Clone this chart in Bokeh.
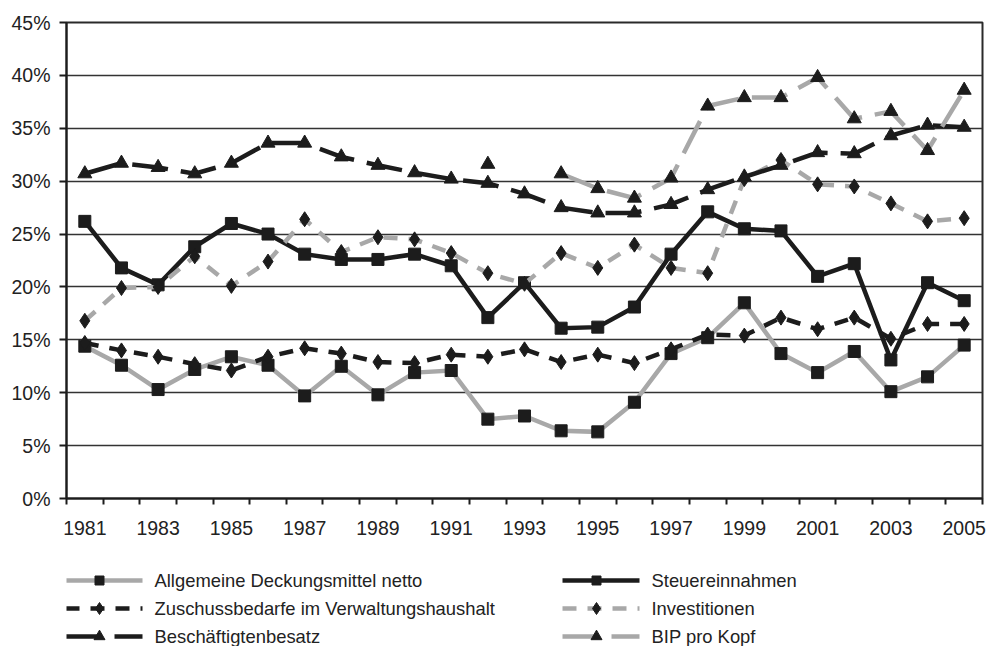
from bokeh.plotting import figure
from bokeh.layouts import column
from bokeh.models import FixedTicker, Range1d
from bokeh.core.properties import value
from bokeh.embed import file_html
from bokeh.resources import INLINE

nan = float("nan")

years = list(range(1981, 2006))
label_years = list(range(1981, 2006, 2))
y_ticks = [0, 5, 10, 15, 20, 25, 30, 35, 40, 45]

adm = [14.4, 12.6, 10.3, 12.2, 13.4, 12.6, 9.7, 12.5, 9.8, 11.9, 12.1, 7.5, 7.8,
       6.4, 6.3, 9.1, 13.7, 15.2, 18.5, 13.7, 11.9, 13.9, 10.1, 11.5, 14.5]
steuer = [26.2, 21.8, 20.2, 23.8, 26.0, 25.0, 23.1, 22.6, 22.6, 23.1, 22.0, 17.1, 20.4,
          16.1, 16.2, 18.1, 23.1, 27.1, 25.5, 25.3, 21.0, 22.2, 13.1, 20.4, 18.7]
zuschuss = [14.7, 14.0, 13.4, 12.7, 12.1, 13.4, 14.2, 13.7, 12.9, 12.8, 13.6, 13.4, 14.1,
            12.9, 13.6, 12.8, 14.1, 15.5, 15.4, 17.1, 16.0, 17.1, 15.1, 16.5, 16.5]
invest = [16.8, 19.9, 20.0, 22.9, 20.1, 22.4, 26.4, 23.3, 24.7, 24.5, 23.2, 21.3, 20.3,
          23.2, 21.8, 24.0, 21.8, 21.3, 30.2, 32.0, 29.7, 29.5, 27.9, 26.2, 26.5]
besch = [30.7, 31.7, 31.3, 30.7, 31.7, 33.6, 33.6, 32.3, 31.5, 30.8, 30.2, 29.8, 28.8,
         27.5, 27.0, 27.0, 27.8, 29.2, 30.4, 31.5, 32.7, 32.6, 34.3, 35.3, 35.1]
bip = [nan, nan, nan, nan, nan, nan, nan, nan, nan, nan, nan, 31.6, nan,
       30.7, 29.3, 28.4, 30.3, 37.1, 37.9, 37.9, 39.8, 35.9, 36.6, 32.9, 38.6]

names = ["Allgemeine Deckungsmittel netto", "Steuereinnahmen",
         "Zuschussbedarfe im Verwaltungshaushalt", "Investitionen",
         "Beschäftigtenbesatz", "BIP pro Kopf"]

BLACK = "#1c1c1c"
GRAY = "#a8a8a8"
TEXT = "#222222"
FONT = "Liberation Sans"
SHORT = "14 11"
LONG = "36 13"

styles = [
    (GRAY, "solid", "square", 12),
    (BLACK, "solid", "square", 12),
    (BLACK, SHORT, "diamond", 15),
    (GRAY, SHORT, "diamond", 15),
    (BLACK, LONG, "triangle", 14),
    (GRAY, LONG, "triangle", 14),
]
series = [adm, steuer, zuschuss, invest, besch, bip]

# ---------------- main chart ----------------
p = figure(width=988, height=560, output_backend="svg", toolbar_location=None,
           x_range=Range1d(1980.5, 2005.5), y_range=Range1d(0, 45),
           min_border_left=66, min_border_right=6, min_border_top=22,
           min_border_bottom=62)
p.background_fill_color = "white"
p.border_fill_color = "white"
p.outline_line_color = "#2a2a2a"
p.outline_line_width = 2

xa = p.xaxis[0]
xa.ticker = FixedTicker(ticks=label_years,
                        minor_ticks=[y - 0.5 for y in years] + [2005.5])
xa.major_tick_out = 0
xa.major_tick_in = 0
xa.minor_tick_out = 6
xa.minor_tick_in = 0
xa.minor_tick_line_color = BLACK
xa.minor_tick_line_width = 2
xa.axis_line_color = BLACK
xa.axis_line_width = 2
xa.major_label_text_font = FONT
xa.major_label_text_font_size = "19.5px"
xa.major_label_text_color = TEXT
xa.major_label_standoff = 16

ya = p.yaxis[0]
ya.ticker = FixedTicker(ticks=y_ticks)
ya.major_label_overrides = {t: f"{t}%" for t in y_ticks}
ya.major_tick_out = 7
ya.major_tick_in = 0
ya.minor_tick_out = 0
ya.minor_tick_in = 0
ya.major_tick_line_color = BLACK
ya.major_tick_line_width = 2
ya.axis_line_color = BLACK
ya.axis_line_width = 2
ya.major_label_text_font = FONT
ya.major_label_text_font_size = "19.5px"
ya.major_label_text_color = TEXT
ya.major_label_standoff = 9

p.xgrid.grid_line_color = None
p.ygrid.ticker = FixedTicker(ticks=y_ticks)
p.ygrid.grid_line_color = "#333333"
p.ygrid.grid_line_width = 1.5

for vals, (col, dash, mk, sz) in zip(series, styles):
    p.line(years, vals, line_color=col, line_width=4.5, line_dash=dash,
           line_join="miter")
    p.scatter(years, vals, marker=mk, size=sz, fill_color=BLACK, line_color=BLACK)

# ---------------- legend (drawn as its own small panel) ----------------
# the column layout aligns this panel's frame with the chart frame (66..982 px)
lg = figure(width=988, height=86, output_backend="svg", toolbar_location=None,
            x_range=Range1d(66, 982), y_range=Range1d(86, 0),
            min_border=0, min_border_left=0, min_border_right=0,
            min_border_top=0, min_border_bottom=0)
lg.axis.visible = False
lg.grid.visible = False
lg.outline_line_color = None
lg.background_fill_color = "white"
lg.border_fill_color = "white"

col_x = [65, 562]
row_y = [20, 48, 76]
for i, ((col, dash, mk, sz), name) in enumerate(zip(styles, names)):
    cx = col_x[i % 2]
    ry = row_y[i // 2]
    lg.segment(x0=[cx], y0=[ry], x1=[cx + 77], y1=[ry], line_color=col,
               line_width=4.5, line_dash=dash)
    lg.scatter(x=[cx + 34], y=[ry], marker=mk, size=sz - 3, fill_color=BLACK,
               line_color=BLACK)
    lg.text(x=[cx + 89], y=[ry], text=[name], text_font=value(FONT),
            text_font_size="18.4px", text_color=TEXT, text_baseline="middle",
            text_align="left")

layout = column(p, lg, spacing=0)
open("out.html", "w").write(file_html(layout, INLINE))
